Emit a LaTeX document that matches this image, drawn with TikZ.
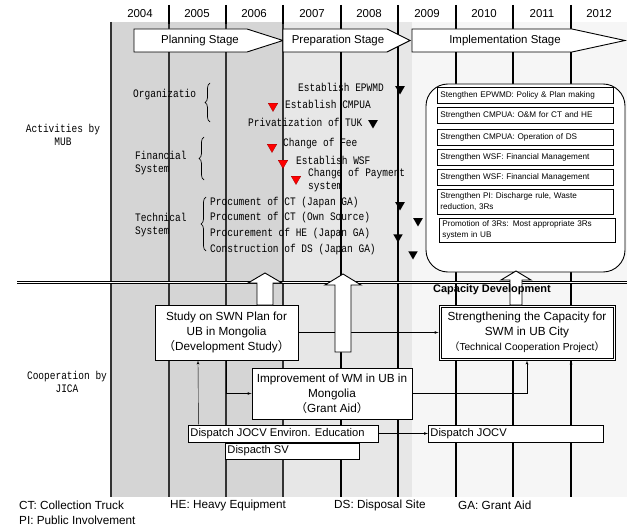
\documentclass[tikz,border=0pt]{standalone}
\usepackage{fontspec}
\setmainfont{Liberation Sans}
\newfontfamily\monofont[FakeStretch=0.83]{Liberation Mono}
\newfontfamily\cjk{Noto Sans CJK JP}
\usepackage{tikz}
\usetikzlibrary{arrows,shapes,decorations.pathreplacing}

\newcommand{\jlp}{{\cjk （}}
\newcommand{\jrp}{{\cjk ）}}

\begin{document}
\begin{tikzpicture}[x=1bp,y=-1bp,>=latex',
	year/.style={font=\fontsize{11.5}{13}\selectfont},
	mono/.style={font=\monofont\fontsize{11.5}{13}\selectfont, inner sep=0pt, anchor=west, align=left},
	downtri/.style={regular polygon, regular polygon sides=3, shape border rotate=180, fill=black, inner sep=0pt, minimum size=11bp},
	redtri/.style={downtri, fill=red, draw=red!60!black, line width=.3pt},
	taskbox/.style={draw, fill=white, line width=.9pt, font=\fontsize{8.2}{10.5}\selectfont, align=left, anchor=west, inner xsep=3bp, inner ysep=1bp, text width=170bp, minimum height=16bp},
	jbox/.style={draw, fill=white, line width=.9pt, font=\fontsize{11.8}{15}\selectfont, align=center, inner sep=1pt},
	dbox/.style={draw, fill=white, line width=.9pt, font=\fontsize{11.2}{13}\selectfont, anchor=west, align=flush left, minimum height=17bp, inner xsep=2bp, inner ysep=0pt},
	fatarrow/.style={draw, fill=white, line width=.9pt},
	brc/.style={decorate, decoration={brace, amplitude=5pt}, line width=.7pt},
	yearline/.style={line width=1.1pt}
]
	\useasboundingbox (0,0) rectangle (627,529);

	\fill[gray!33] (111,22) rectangle (283,497);
	\fill[gray!19] (283,22) rectangle (412,497);
	\fill[gray!7]  (412,22) rectangle (627,497);

	\foreach \x in {111,169,226,283}
		\draw[yearline, gray!40!black] (\x,22) -- (\x,497);
	\foreach \x in {341,398,456,513,571}
		\draw[yearline] (\x,22) -- (\x,497);
	\foreach \x in {169,226,283,341,398,456,513,571}
		\draw[line width=1.6pt] (\x,5) -- (\x,24);
	\foreach \y/\x in {2004/140,2005/197,2006/254,2007/312,2008/369,2009/427,2010/484,2011/542,2012/599}
		\node (y\y) at (\x,14) [year] {\y};

	\draw[fatarrow] (134,29) -- (247,29) -- (283,40.5) -- (247,52) -- (134,52) -- cycle;
	\draw[fatarrow] (283,29) -- (387,29) -- (410,40.5) -- (387,52) -- (283,52) -- cycle;
	\draw[fatarrow] (412,29) -- (572,29) -- (625,40.5) -- (572,52) -- (412,52) -- cycle;
	\node (planning) at (200,40.5) [year] {Planning Stage};
	\node (preparation) at (338,40.5) [year] {Preparation Stage};
	\node (implementation) at (505,40.5) [year] {Implementation Stage};

	\draw[line width=.7pt, double, double distance=1.6pt] (17,282.5) -- (627,282.5);

	\node (actmub) at (63,135) [mono, anchor=center, align=center] {Activities by\\MUB};
	\node (coopjica) at (67,382) [mono, anchor=center, align=center] {Cooperation by\\JICA};

	\node (organiz) at (133,95) [mono] {Organizatio};
	\node (financial) at (135,163) [mono] {Financial\\System};
	\node (technical) at (135,225) [mono] {Technical\\System};
	\draw[brc] (210,122) -- (210,83);
	\draw[brc] (204,180) -- (204,137);
	\draw[brc] (206,251) -- (206,197);

	\node (epwmd) at (298,87) [mono] {Establish EPWMD};
	\node (epwmdt) at (400,89) [downtri] {};
	\node (cmpuat) at (273,106) [redtri] {};
	\node (cmpua) at (285,104) [mono] {Establish CMPUA};
	\node (tuk) at (248,122) [mono] {Privatization of TUK};
	\node (tukt) at (373,123) [downtri] {};
	\node (feet) at (272,147) [redtri] {};
	\node (fee) at (283,144) [mono] {Change of Fee};
	\node (wsft) at (283,163) [redtri] {};
	\node (wsf) at (296,160) [mono] {Establish WSF};
	\node (payt) at (296,179) [redtri] {};
	\node (pay) at (308,180.5) [mono] {Change of Payment\\system};
	\node (ctjp) at (210,203) [mono] {Procument of CT (Japan GA)};
	\node (ctjpt) at (400,205) [downtri] {};
	\node (ctown) at (210,218) [mono] {Procument of CT (Own Source)};
	\node (ctownt) at (418,221) [downtri] {};
	\node (hejp) at (210,234) [mono] {Procurement of HE (Japan GA)};
	\node (hejpt) at (398,237) [downtri] {};
	\node (dsjp) at (210,250) [mono] {Construction of DS (Japan GA)};
	\node (dsjpt) at (413,254) [downtri] {};

	\node (capbox) at (525.5,178) [draw, fill=white, line width=.9pt, rounded corners=22bp, minimum width=199bp, minimum height=188bp] {};
	\node (task1) at (437,95.5) [taskbox] {Stengthen EPWMD: Policy \& Plan making};
	\node (task2) at (437,115.5) [taskbox] {Strengthen CMPUA: O\&M for CT and HE};
	\node (task3) at (437,137) [taskbox] {Strengthen CMPUA: Operation of DS};
	\node (task4) at (437,157) [taskbox] {Strengthen WSF: Financial Management};
	\node (task5) at (437,177.5) [taskbox] {Strengthen WSF: Financial Management};
	\node (task6) at (437,201.5) [taskbox, minimum height=25bp] {Strengthen PI: Discharge rule, Waste\\reduction, 3Rs};
	\node (task7) at (439,230) [taskbox, minimum height=24bp] {Promotion of 3Rs: Most appropriate 3Rs\\system in UB};

	\node (study) at (226.5,332.5) [jbox, minimum width=143bp, minimum height=55bp] {Study on SWN Plan for\\UB in Mongolia\\\jlp Development Study\jrp};
	\node (strength) at (527,332.5) [jbox, minimum width=176bp, minimum height=55bp] {Strengthening the Capacity for\\SWM in UB City\\{\fontsize{10.2}{13}\selectfont\jlp Technical Cooperation Project\jrp}};
	\draw[line width=.7pt] ([shift={(2.5,2.5)}]strength.north west) rectangle ([shift={(-2.5,-2.5)}]strength.south east);
	\node (improve) at (332,393.5) [jbox, minimum width=160bp, minimum height=51bp] {Improvement of WM in UB in\\Mongolia\\\jlp Grant Aid\jrp};
	\node (jocvenv) at (188,433.5) [dbox, text width=186bp] {Dispatch JOCV Environ. Education};
	\node (jocv) at (428,433.5) [dbox, text width=171bp] {Dispatch JOCV};
	\node (sv) at (225,451) [dbox, text width=130bp, minimum height=16bp] {Dispacth SV};

	\draw[->] (study.east) -- (strength.west);
	\draw[->] (study.south) |- (improve.west);
	\draw[->] ([xshift=-85bp]jocvenv.north) -- ([xshift=-28.5bp]study.south);
	\draw[->] (improve.east) -| (strength.south);
	\draw[->] (jocvenv.east) -- (jocv.west);
	\draw[->] ([xshift=55.5bp]jocv.north) -- ([xshift=44bp]strength.south);

	\draw[fatarrow] (257,305) -- (257,283) -- (248,283) -- (265,273) -- (282,283) -- (273,283) -- (273,305) -- cycle;
	\draw[fatarrow] (335,352) -- (335,285) -- (325,285) -- (343,274) -- (361,285) -- (351,285) -- (351,352) -- cycle;
	\draw[fatarrow] (510,305) -- (510,280) -- (501,280) -- (516,271) -- (531,280) -- (522,280) -- (522,305) -- cycle;

	\node (capdev) at (492,290) [font=\bfseries\fontsize{11}{13}\selectfont] {Capacity Development};

	\node (lgct) at (19,505) [anchor=west, inner sep=0pt, font=\fontsize{11.8}{13}\selectfont] {CT: Collection Truck};
	\node (lghe) at (170,505) [anchor=west, inner sep=0pt, font=\fontsize{11.8}{13}\selectfont] {HE: Heavy Equipment};
	\node (lgds) at (334,505) [anchor=west, inner sep=0pt, font=\fontsize{11.8}{13}\selectfont] {DS: Disposal Site};
	\node (lgga) at (458,505) [anchor=west, inner sep=0pt, font=\fontsize{11.8}{13}\selectfont] {GA: Grant Aid};
	\node (lgpi) at (19,520) [anchor=west, inner sep=0pt, font=\fontsize{11.8}{13}\selectfont] {PI: Public Involvement};
\end{tikzpicture}
\end{document}
